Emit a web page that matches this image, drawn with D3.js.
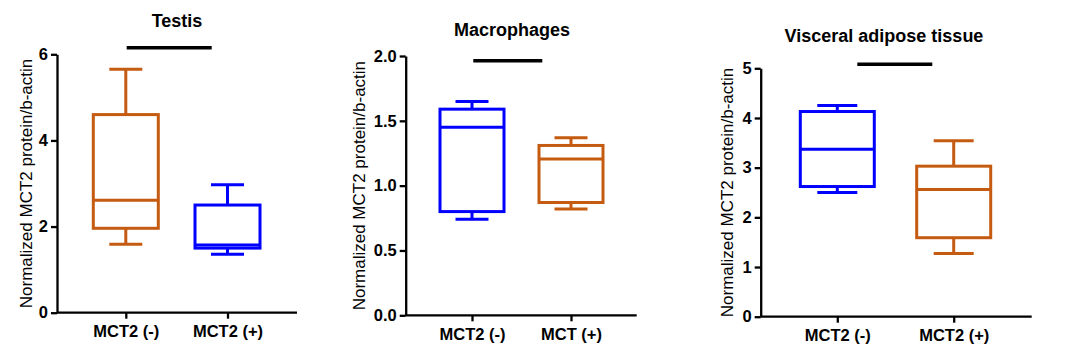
<!DOCTYPE html>
<html>
<head>
<meta charset="utf-8">
<script src="https://cdn.jsdelivr.net/npm/d3@7"></script>
<style>
  body { margin: 0; background: #fff; }
  text { font-family: "Liberation Sans", Arial, sans-serif; }
</style>
</head>
<body>
<div id="chart"></div>
<script>
// box stats per group: [min, q1, median, q3, max]
const testisGroups = ["MCT2 (-)", "MCT2 (+)"];
const testisStats = [[1.59, 1.96, 2.61, 4.60, 5.65], [1.36, 1.50, 1.57, 2.50, 2.97]];
const testisTicks = [0, 2, 4, 6];

const macroGroups = ["MCT2 (-)", "MCT (+)"];
const macroStats = [[0.74, 0.80, 1.45, 1.59, 1.65], [0.82, 0.87, 1.205, 1.31, 1.37]];
const macroTicks = [0, 0.5, 1.0, 1.5, 2.0];

const vatGroups = ["MCT2 (-)", "MCT2 (+)"];
const vatStats = [[2.50, 2.62, 3.37, 4.13, 4.25], [1.27, 1.59, 2.56, 3.03, 3.54]];
const vatTicks = [0, 1, 2, 3, 4, 5];

const titles = ["Testis", "Macrophages", "Visceral adipose tissue"];
const yLabel = "Normalized MCT2 protein/b-actin";

const ORANGE = "#C55A11", BLUE = "#0000FF";

let svg = d3.select("#chart").append("svg")
  .attr("width", 1080).attr("height", 358);

function drawPanel(p) {
  let g = svg.append("g");

  let y = d3.scaleLinear().domain(p.domain).range([p.bottom, p.top]);
  let x = d3.scalePoint().domain(p.groups).range(p.centers);

  // y axis
  let ya = g.append("g").attr("transform", "translate(" + p.left + ",0)")
    .call(d3.axisLeft(y).tickValues(p.ticks).tickFormat(p.fmt).tickSize(6).tickPadding(3).tickSizeOuter(0));
  // x axis
  let xa = g.append("g").attr("transform", "translate(0," + p.bottom + ")")
    .call(d3.axisBottom(x).tickSize(6).tickPadding(7).tickSizeOuter(0));
  xa.select(".domain").attr("d", "M" + p.left + ",0H" + p.right);

  [ya, xa].forEach(function(a) {
    a.selectAll("path, line").attr("stroke", "#000").attr("stroke-width", 2.3);
    a.selectAll("text").attr("fill", "#000").style("font-weight", "bold")
      .style("font-family", "'Liberation Sans', Arial, sans-serif");
  });
  ya.selectAll("text").style("font-size", "16.5px");
  xa.selectAll("text").style("font-size", "16.5px");

  // boxes
  let boxes = g.selectAll(".box").data(p.stats).enter().append("g")
    .attr("stroke", function(d, i) { return p.colors[i]; })
    .attr("stroke-width", 3).attr("fill", "none");

  boxes.each(function(d, i) {
    let b = d3.select(this);
    let cx = x(p.groups[i]);
    let hw = p.boxW / 2, cw = p.capW / 2;
    // whiskers
    b.append("line").attr("x1", cx).attr("x2", cx).attr("y1", y(d[4])).attr("y2", y(d[3]));
    b.append("line").attr("x1", cx).attr("x2", cx).attr("y1", y(d[0])).attr("y2", y(d[1]));
    b.append("line").attr("x1", cx - cw).attr("x2", cx + cw).attr("y1", y(d[4])).attr("y2", y(d[4]));
    b.append("line").attr("x1", cx - cw).attr("x2", cx + cw).attr("y1", y(d[0])).attr("y2", y(d[0]));
    // box
    b.append("rect").attr("x", cx - hw).attr("width", p.boxW)
      .attr("y", y(d[3])).attr("height", y(d[1]) - y(d[3])).attr("fill", "#fff");
    b.append("line").attr("x1", cx - hw).attr("x2", cx + hw).attr("y1", y(d[2])).attr("y2", y(d[2]));
  });

  // significance bar
  g.append("line").attr("x1", p.bar[0]).attr("x2", p.bar[1])
    .attr("y1", y(p.barY)).attr("y2", y(p.barY))
    .attr("stroke", "#000").attr("stroke-width", 3.5);

  // title
  g.append("text").attr("x", p.titleX).attr("y", p.titleY)
    .attr("text-anchor", "middle").style("font-weight", "bold").style("font-size", "18px")
    .text(p.title);

  // y label
  g.append("text")
    .attr("transform", "translate(" + p.labelX + "," + (p.top + p.bottom) / 2 + ") rotate(-90)")
    .attr("text-anchor", "middle").attr("dy", "0.35em")
    .style("font-size", "17px")
    .text(yLabel);
}

drawPanel({
  groups: testisGroups, stats: testisStats, ticks: testisTicks, domain: [0, 6],
  fmt: d3.format("d"), colors: [ORANGE, BLUE],
  left: 57, right: 297, top: 54.3, bottom: 312.7, centers: [125.8, 227.5],
  boxW: 65, capW: 33, bar: [126.7, 211.7], barY: 6.15,
  title: titles[0], titleX: 177, titleY: 27, labelX: 26
});

drawPanel({
  groups: macroGroups, stats: macroStats, ticks: macroTicks, domain: [0, 2],
  fmt: d3.format(".1f"), colors: [BLUE, ORANGE],
  left: 405.7, right: 636.7, top: 56, bottom: 315.3, centers: [472, 571],
  boxW: 64, capW: 33, bar: [473.3, 542.3], barY: 1.964,
  title: titles[1], titleX: 512, titleY: 36, labelX: 359
});

drawPanel({
  groups: vatGroups, stats: vatStats, ticks: vatTicks, domain: [0, 5],
  fmt: d3.format("d"), colors: [BLUE, ORANGE],
  left: 760.7, right: 1031.7, top: 68.3, bottom: 316.7, centers: [837.3, 953.7],
  boxW: 74, capW: 40, bar: [857.3, 932.3], barY: 5.08,
  title: titles[2], titleX: 884, titleY: 42, labelX: 727.5
});
</script>
</body>
</html>
